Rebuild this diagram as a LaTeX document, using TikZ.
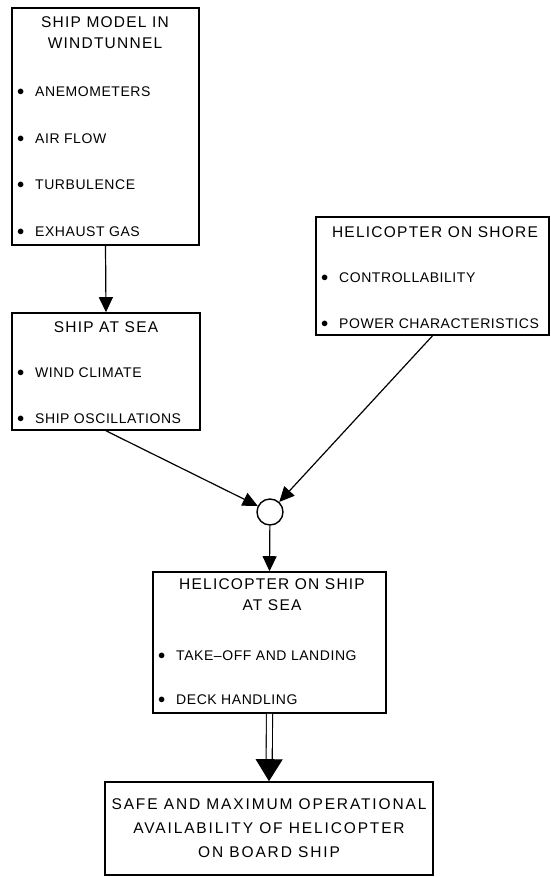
\documentclass[tikz,border=0pt]{standalone}
\usepackage{fontspec}
\setmainfont{Liberation Sans}
\newfontfamily\headfont[LetterSpace=8]{Liberation Sans}
\newfontfamily\pointfont[LetterSpace=4]{Liberation Sans}
\newfontfamily\goalfont[LetterSpace=12]{Liberation Sans}
\usetikzlibrary{arrows.meta, positioning}
\newcommand{\itemdot}{\makebox[18pt][l]{\raisebox{1.2pt}{$\bullet$}}}
\tikzset{
    flowbox/.style={rectangle, draw, line width=1.6pt, inner sep=0pt},
    flowtitle/.style={inner sep=0pt, align=center, font=\headfont\fontsize{15.5}{21}\selectfont},
    flowitem/.style={inner sep=0pt, anchor=west, font=\pointfont\fontsize{14}{16}\selectfont},
    flowgoal/.style={inner sep=0pt, align=center, font=\goalfont\fontsize{15.5}{24}\selectfont},
    flowarrow/.style={-{Triangle[length=15pt, width=14pt]}, line width=1.2pt},
    flowdouble/.style={-{Triangle[length=22pt, width=27pt]}, double, double distance=5pt, line width=1.1pt},
    joinnode/.style={circle, draw, line width=1.4pt, minimum size=26pt, inner sep=0pt}
}

\begin{document}
\begin{tikzpicture}[x=1pt, y=-1pt]
\useasboundingbox (0,0) rectangle (550,877);

\node[flowbox, minimum width=187pt, minimum height=237pt] (windtunnel) at (105.5,126.5) {};
\node[flowtitle] (windtunnel-title) at (105,32.5) {SHIP MODEL IN\\WINDTUNNEL};
\node[flowitem] (anemometers) at (17,92) {\itemdot ANEMOMETERS};
\node[flowitem] (airflow) at (17,139) {\itemdot AIR FLOW};
\node[flowitem] (turbulence) at (17,185) {\itemdot TURBULENCE};
\node[flowitem] (exhaust) at (17,232) {\itemdot EXHAUST GAS};

\node[flowbox, minimum width=188pt, minimum height=117pt] (seaship) at (106,371.5) {};
\node[flowtitle] (seaship-title) at (106,327) {SHIP AT SEA};
\node[flowitem] (climate) at (17,373) {\itemdot WIND CLIMATE};
\node[flowitem] (oscillations) at (17,419) {\itemdot SHIP OSCILLATIONS};

\node[flowbox, minimum width=233pt, minimum height=118pt] (shore) at (432.5,276) {};
\node[flowtitle] (shore-title) at (435,232) {HELICOPTER ON SHORE};
\node[flowitem] (control) at (321,278) {\itemdot CONTROLLABILITY};
\node[flowitem] (power) at (321,324) {\itemdot POWER CHARACTERISTICS};

\node[joinnode] (join) at (270,512) {};

\node[flowbox, minimum width=233pt, minimum height=141pt] (onship) at (269.5,642.5) {};
\node[flowtitle] (onship-title) at (272,595) {HELICOPTER ON SHIP\\AT SEA};
\node[flowitem] (takeoff) at (158,656) {\itemdot TAKE–OFF AND LANDING};
\node[flowitem] (deck) at (158,700) {\itemdot DECK HANDLING};

\node[flowbox, minimum width=328pt, minimum height=93pt] (goal) at (269,828.5) {};
\node[flowgoal] (goal-text) at (269,828) {SAFE AND MAXIMUM OPERATIONAL\\AVAILABILITY OF HELICOPTER\\ON BOARD SHIP};

\draw[flowarrow] (windtunnel.south) -- (seaship.north);
\draw[flowarrow] (seaship.south) -- (join);
\draw[flowarrow] (shore.south) -- (join);
\draw[flowarrow] (join) -- (onship.north);
\draw[flowdouble] (onship.south) -- (goal.north);

\end{tikzpicture}
\end{document}
